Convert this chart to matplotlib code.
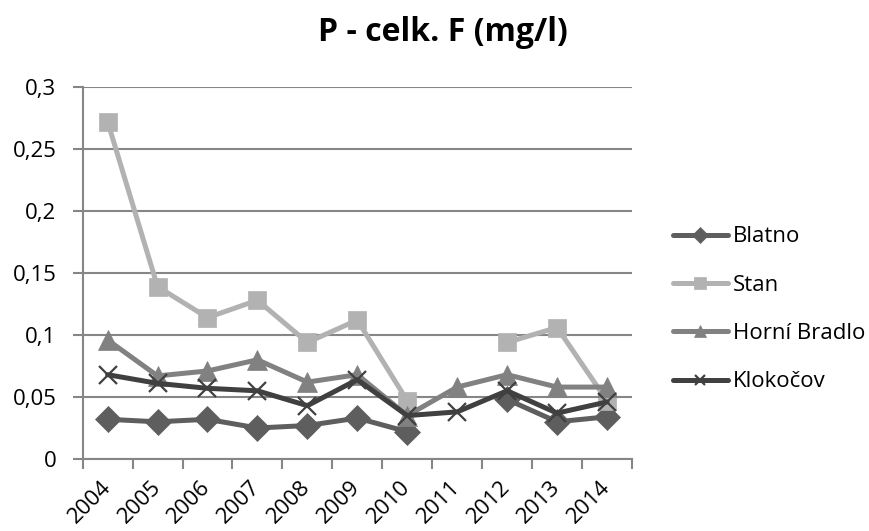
import numpy as np
import matplotlib
matplotlib.use("Agg")
import matplotlib.pyplot as plt
from matplotlib.ticker import FuncFormatter

years = ["2004", "2005", "2006", "2007", "2008", "2009", "2010", "2011", "2012", "2013", "2014"]

blatno = [0.032, 0.030, 0.032, 0.025, 0.027, 0.033, 0.022, np.nan, 0.048, 0.030, 0.034]
stan = [0.272, 0.139, 0.114, 0.128, 0.094, 0.112, 0.047, np.nan, 0.094, 0.106, 0.047]
horni_bradlo = [0.096, 0.067, 0.071, 0.080, 0.062, 0.068, 0.035, 0.058, 0.068, 0.058, 0.058]
klokocov = [0.068, 0.061, 0.057, 0.055, 0.043, 0.064, 0.035, 0.038, 0.055, 0.037, 0.046]

y_ticks = [0, 0.05, 0.1, 0.15, 0.2, 0.25, 0.3]

plt.rcParams['font.family'] = ['Open Sans', 'DejaVu Sans']

fig = plt.figure(figsize=(8.70, 5.31), dpi=100)
ax = fig.add_axes([0.095, 0.1356, 0.6314, 0.7006])

x = np.arange(len(years))
grid_c = "#868686"

series = [
    ("Blatno", blatno, "#5e5e5e", "D", 13),
    ("Stan", stan, "#b2b2b2", "s", 13.5),
    ("Horní Bradlo", horni_bradlo, "#818181", "^", 14),
    ("Klokočov", klokocov, "#404040", "x", 13),
]
for name, vals, col, mk, ms in series:
    ax.plot(x, vals, color=col, lw=3.6, marker=mk, markersize=ms,
            markerfacecolor=col, markeredgecolor=col,
            markeredgewidth=1.6 if mk == "x" else 0.5,
            label=name, solid_capstyle="round", solid_joinstyle="round")

ax.set_xlim(-0.5, len(years) - 0.5)
ax.set_ylim(0, 0.3)
ax.set_yticks(y_ticks)
ax.yaxis.set_major_formatter(FuncFormatter(lambda v, p: f"{v:g}".replace(".", ",")))
ax.yaxis.grid(True, color=grid_c, lw=1.5)
ax.set_axisbelow(True)

ax.set_xticks(np.arange(len(years) + 1) - 0.5, minor=False)
ax.set_xticklabels([])
ax.set_xticks(x, minor=True)
ax.set_xticklabels(years, minor=True, rotation=45, ha="right", va="center",
                   rotation_mode="anchor", fontsize=16)
ax.tick_params(axis="x", which="minor", length=0, pad=18)
ax.tick_params(axis="x", which="major", length=7, width=1.5, color=grid_c)
ax.tick_params(axis="y", length=7, width=1.5, color=grid_c, labelsize=16, pad=12)

for s in ["top", "right"]:
    ax.spines[s].set_visible(False)
for s in ["left", "bottom"]:
    ax.spines[s].set_color(grid_c)
    ax.spines[s].set_linewidth(1.5)

fig.text(0.509, 0.938, "P - celk. F (mg/l)", ha="center", va="center",
         fontsize=23, fontweight="bold")

leg = ax.legend(loc="center left", bbox_to_anchor=(1.058, 0.402), frameon=False,
                fontsize=16, handlelength=2.5, handletextpad=0.22,
                labelspacing=1.23, borderaxespad=0, markerscale=0.6)

fig.savefig("out.png", dpi=100)
